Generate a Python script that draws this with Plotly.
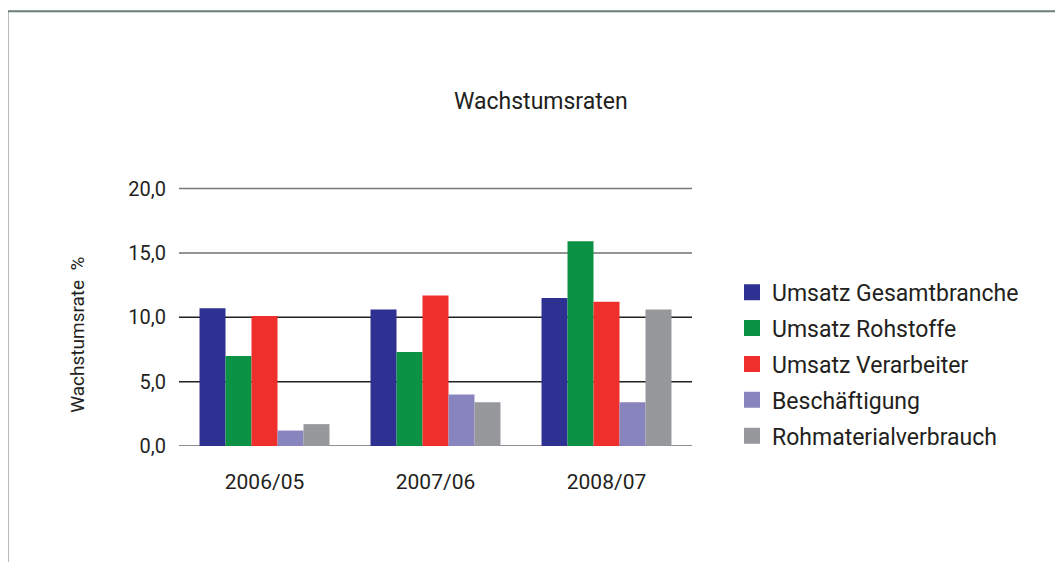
import plotly.graph_objects as go

categories = ["2006/05", "2007/06", "2008/07"]
series_names = ["Umsatz Gesamtbranche", "Umsatz Rohstoffe", "Umsatz Verarbeiter",
                "Beschäftigung", "Rohmaterialverbrauch"]
umsatz_gesamt = [10.7, 10.6, 11.5]
umsatz_rohstoffe = [7.0, 7.3, 15.9]
umsatz_verarbeiter = [10.1, 11.7, 11.2]
beschaeftigung = [1.2, 4.0, 3.4]
rohmaterial = [1.7, 3.4, 10.6]
tick_vals = [0, 5, 10, 15, 20]
tick_text = ["0,0", "5,0", "10,0", "15,0", "20,0"]

colors = ["#2E3192", "#0C9244", "#EE2F2B", "#8884BE", "#97989B"]
grid_colors = ["#6a6a6a", "#231F20", "#231F20", "#707070", "#7a7a7a"]
values = [umsatz_gesamt, umsatz_rohstoffe, umsatz_verarbeiter, beschaeftigung, rohmaterial]

FONT = "Roboto"
TXT = "#231F20"
OFF = 8  # page body margin

W, H = 1063, 562
YMAX = 20.2
# target pixel positions in the screenshot
PL, PR, P0, P20 = 179, 692, 446, 189
px_per_unit = (P0 - P20) / 20
PT = P0 - YMAX * px_per_unit
PB = P0
L = PL - OFF
T = PT - OFF
pw = PR - PL
ph = PB - PT
R = W - L - pw
B = H - T - ph


def px_x(x):
    return (x - OFF - L) / pw


def px_y(y):
    return (T + ph - (y - OFF)) / ph


fig = go.Figure()
for name, vals, c in zip(series_names, values, colors):
    fig.add_trace(go.Bar(x=categories, y=vals, name=name, showlegend=False,
                         marker=dict(color=c, line=dict(width=0))))
for i, (name, c) in enumerate(zip(series_names, colors)):
    fig.add_trace(go.Scatter(x=[None], y=[None], mode="markers", name=name,
                             legendgroup=f"g{i}",
                             marker=dict(symbol="square", size=16, color=c)))

shapes = [
    dict(type="line", xref="paper", yref="y", x0=0, x1=1, y0=v, y1=v,
         line=dict(color=gc, width=1.5), layer="below")
    for v, gc in zip(tick_vals, grid_colors)
]
shapes.append(
    dict(type="path", xref="paper", yref="paper",
         path=f"M {px_x(7.5)} {px_y(575)} L {px_x(7.5)} {px_y(12)} L {px_x(1075)} {px_y(12)}",
         line=dict(color="#6b7d77", width=2)))

fig.update_layout(
    width=W, height=H,
    margin=dict(l=L, r=R, t=T, b=B, autoexpand=False),
    paper_bgcolor="white", plot_bgcolor="white",
    barmode="group", bargap=0.24, bargroupgap=0,
    font=dict(family=FONT, size=20, color=TXT),
    showlegend=True,
    legend=dict(x=px_x(732), y=px_y(271), xanchor="left", yanchor="top",
                font=dict(family=FONT, size=23, color=TXT),
                itemwidth=30, tracegroupgap=3, bgcolor="rgba(0,0,0,0)",
                traceorder="grouped"),
    xaxis=dict(showgrid=False, showline=False, zeroline=False, ticks="outside",
               ticklen=17, tickcolor="rgba(0,0,0,0)",
               tickfont=dict(family=FONT, size=21, color=TXT)),
    yaxis=dict(range=[0, YMAX], tickvals=tick_vals, ticktext=tick_text,
               showgrid=False, zeroline=False,
               showline=False, ticks="outside", ticklen=8, tickcolor="rgba(0,0,0,0)",
               tickfont=dict(family=FONT, size=20, color=TXT)),
    annotations=[
        dict(text="Wachstumsraten", x=px_x(541), y=px_y(102), xref="paper", yref="paper",
             showarrow=False, xanchor="center", yanchor="middle",
             font=dict(family=FONT, size=23, color=TXT)),
        dict(text="Wachstumsrate  %", x=px_x(78), y=px_y(335), xref="paper", yref="paper",
             showarrow=False, xanchor="center", yanchor="middle", textangle=-90,
             font=dict(family=FONT, size=19, color=TXT)),
    ],
    shapes=shapes,
)

fig.write_html("out.html")
